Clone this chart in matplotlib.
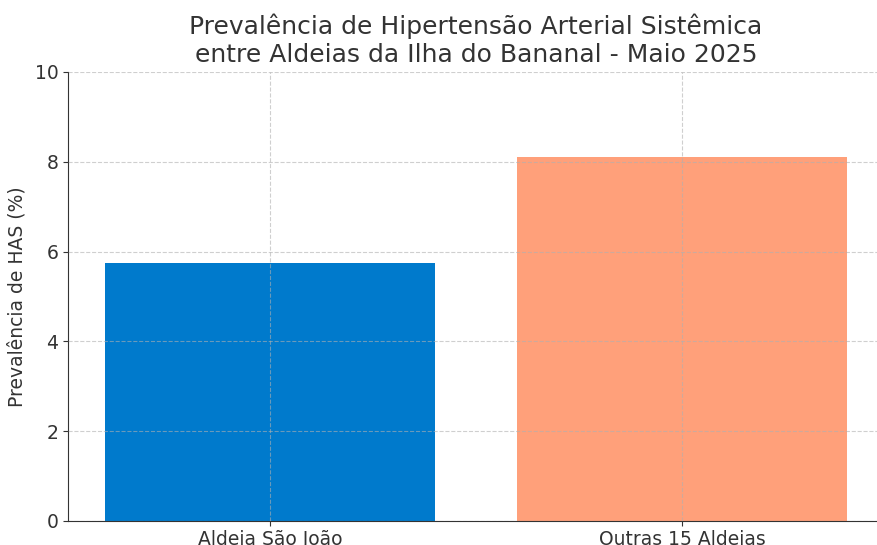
import numpy as np
import matplotlib
matplotlib.use("Agg")
import matplotlib.pyplot as plt

# dados
grupos = ["Aldeia São João", "Outras 15 Aldeias"]
prevalencia = [5.74, 8.1]
cores = ["#007acc", "#ffa07a"]

texto = "#333333"

fig = plt.figure(figsize=(8.77, 5.45), dpi=100)
ax = fig.add_axes([68 / 877, 24 / 545, (884 - 68) / 877, (521 - 72) / 545])

x = np.arange(len(grupos))
ax.bar(x, prevalencia, width=0.8, color=cores, zorder=2)

ax.set_xticks(x)
ax.set_xticklabels(grupos, fontsize=13.5, color=texto)
ax.set_ylim(0, 10)
ax.set_yticks([0, 2, 4, 6, 8, 10])
ax.tick_params(axis="y", labelsize=13.5, colors=texto)
ax.tick_params(axis="x", colors=texto, pad=3)
ax.set_ylabel("Prevalência de HAS (%)", fontsize=13.5, color=texto, labelpad=6)
ax.set_title("Prevalência de Hipertensão Arterial Sistêmica\nentre Aldeias da Ilha do Bananal - Maio 2025",
             fontsize=18, color=texto, pad=7)

# grade por cima das barras, como no original
ax.set_axisbelow(False)
ax.grid(True, linestyle="--", color="#b0b0b0", alpha=0.6, linewidth=0.8)
for lado in ["top", "right"]:
    ax.spines[lado].set_visible(False)
ax.spines["left"].set_color(texto)
ax.spines["bottom"].set_color(texto)

fig.savefig("out.png", dpi=100)
